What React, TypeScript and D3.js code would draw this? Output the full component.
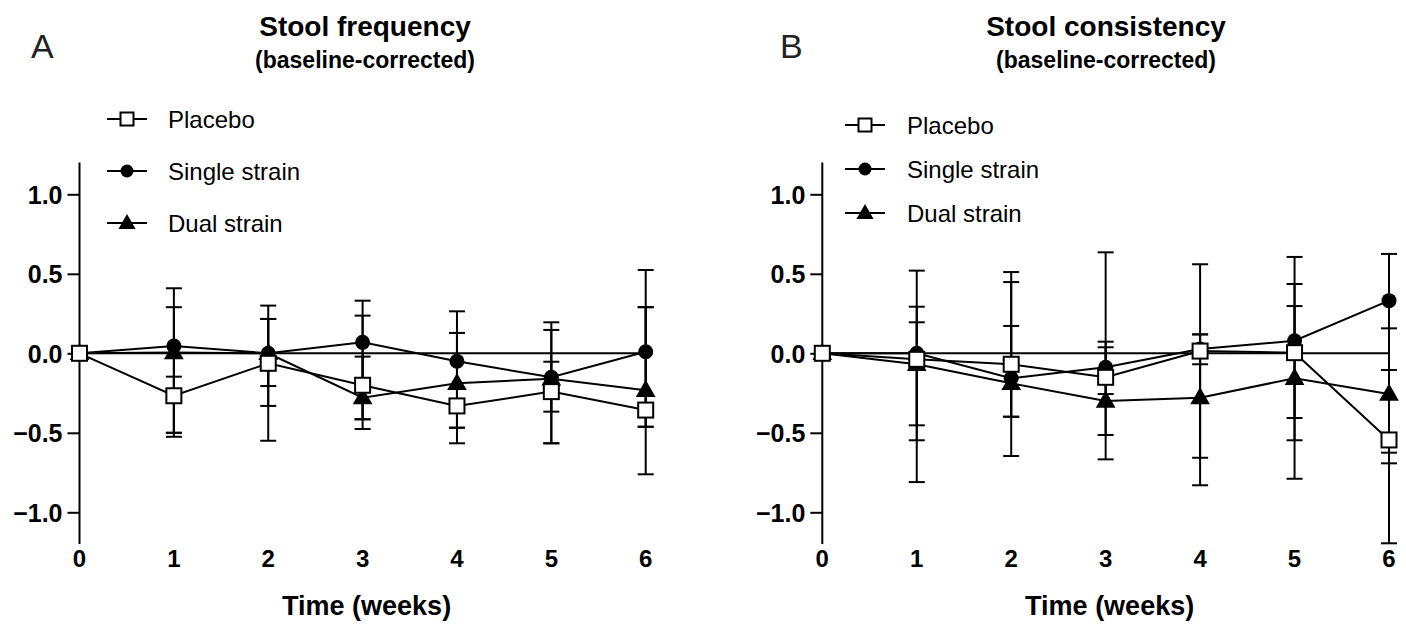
import { useEffect, useRef } from 'react';
import * as d3 from 'd3';

// weeks on the x axis
const WEEKS = [0, 1, 2, 3, 4, 5, 6];
const Y_TICKS = [-1.0, -0.5, 0.0, 0.5, 1.0];
const SERIES = ['Placebo', 'Single strain', 'Dual strain'];
const MARKERS = ['square', 'circle', 'triangle'];

// A: stool frequency (mean, lower, upper)
const freqPlacebo = [0, -0.267, -0.063, -0.201, -0.331, -0.241, -0.357];
const freqPlaceboLo = [0, -0.5, -0.206, -0.476, -0.566, -0.367, -0.761];
const freqPlaceboHi = [0, -0.147, 0.216, 0.237, 0.128, 0.147, 0.29];
const freqSingle = [0, 0.046, 0.0, 0.069, -0.05, -0.151, 0.01];
const freqSingleLo = [0, -0.525, -0.55, -0.415, -0.468, -0.566, -0.462];
const freqSingleHi = [0, 0.409, 0.3, 0.331, 0.264, 0.195, 0.524];
const freqDual = [0, 0.005, 0.0, -0.279, -0.189, -0.16, -0.232];
const freqDualLo = [0, -0.5, -0.331, -0.415, -0.468, -0.566, -0.462];
const freqDualHi = [0, 0.29, 0.216, -0.021, 0.128, -0.053, 0.29];

// B: stool consistency
const consPlacebo = [0, -0.038, -0.069, -0.151, 0.014, 0.004, -0.545];
const consPlaceboLo = [0, -0.547, -0.399, -0.667, -0.069, -0.547, -1.195];
const consPlaceboHi = [0, 0.293, 0.511, 0.635, 0.119, 0.436, 0.157];
const consSingle = [0, 0.0, -0.157, -0.088, 0.027, 0.079, 0.331];
const consSingleLo = [0, -0.81, -0.646, -0.256, -0.657, -0.407, -0.692];
const consSingleHi = [0, 0.52, 0.448, 0.073, 0.119, 0.606, 0.625];
const consDual = [0, -0.069, -0.189, -0.3, -0.279, -0.157, -0.256];
const consDualLo = [0, -0.453, -0.399, -0.514, -0.83, -0.789, -0.625];
const consDualHi = [0, 0.195, 0.172, 0.038, 0.56, 0.297, -0.105];

const FONT = '"Liberation Sans", Arial, Helvetica, sans-serif';

type Series = { mean: number[]; lo: number[]; hi: number[] };

function drawMarker(g: any, type: string, x: number, y: number, s: number) {
  if (type === 'square') {
    g.append('rect')
      .attr('x', x - s / 2).attr('y', y - s / 2)
      .attr('width', s).attr('height', s)
      .attr('fill', '#fff').attr('stroke', '#000').attr('stroke-width', 2);
  } else if (type === 'circle') {
    g.append('circle')
      .attr('cx', x).attr('cy', y).attr('r', s / 2)
      .attr('fill', '#000');
  } else {
    const sym = d3.symbol().type(d3.symbolTriangle).size(s * s * 0.75);
    g.append('path')
      .attr('transform', `translate(${x},${y + 1})`)
      .attr('d', sym())
      .attr('fill', '#000');
  }
}

function drawPanel(svg: any, opts: any) {
  const { x0, x1, letter, letterX, title, titleX, legendX, legendTextX, legendY, series } = opts;
  const x = d3.scaleLinear().domain([0, 6]).range([x0, x1]);
  const y = d3.scaleLinear().domain([-1.2, 1.2]).range([544.1, 162.5]);
  const g = svg.append('g');

  // panel letter + titles
  g.append('text').attr('x', letterX).attr('y', 58).text(letter)
    .style('font-family', FONT).style('font-size', '34px').style('fill', '#222');
  g.append('text').attr('x', titleX).attr('y', 36).attr('text-anchor', 'middle').text(title)
    .style('font-family', FONT).style('font-size', '28px').style('font-weight', 'bold');
  g.append('text').attr('x', titleX).attr('y', 68).attr('text-anchor', 'middle').text('(baseline-corrected)')
    .style('font-family', FONT).style('font-size', '23px').style('font-weight', 'bold');

  // y axis
  const yAxis = g.append('g')
    .attr('transform', `translate(${x0},0)`)
    .call(d3.axisLeft(y).tickValues(Y_TICKS).tickSize(12).tickPadding(5).tickFormat(d3.format('.1f')));
  yAxis.select('.domain').attr('stroke-width', 2).attr('d', `M0,${y(-1.2)}V${y(1.2)}`);
  yAxis.selectAll('.tick line').attr('stroke-width', 2);
  yAxis.selectAll('text')
    .style('font-family', FONT).style('font-size', '25px').style('font-weight', 'bold').attr('fill', '#000')
    .attr('dy', '0.36em');

  // x axis at y=0, no ticks
  g.append('line')
    .attr('x1', x(0)).attr('x2', x(6)).attr('y1', y(0)).attr('y2', y(0))
    .attr('stroke', '#000').attr('stroke-width', 2);

  // x tick labels
  g.selectAll('.xlab').data(WEEKS).enter().append('text')
    .attr('x', (d: number) => x(d)).attr('y', 567).attr('text-anchor', 'middle')
    .text((d: number) => d)
    .style('font-family', FONT).style('font-size', '24px').style('font-weight', 'bold');

  g.append('text').attr('x', (x0 + x1) / 2 + 4).attr('y', 615).attr('text-anchor', 'middle').text('Time (weeks)')
    .style('font-family', FONT).style('font-size', '27px').style('font-weight', 'bold');

  const line = d3.line<number>().x((_d, i) => x(WEEKS[i])).y((d) => y(d));

  // error bars
  series.forEach((s: Series) => {
    WEEKS.forEach((w, i) => {
      if (s.lo[i] === s.hi[i]) return;
      const cx = x(w);
      g.append('line').attr('x1', cx).attr('x2', cx).attr('y1', y(s.lo[i])).attr('y2', y(s.hi[i]))
        .attr('stroke', '#000').attr('stroke-width', 2);
      [s.lo[i], s.hi[i]].forEach((v) => {
        g.append('line').attr('x1', cx - 8).attr('x2', cx + 8).attr('y1', y(v)).attr('y2', y(v))
          .attr('stroke', '#000').attr('stroke-width', 2);
      });
    });
  });

  // lines
  series.forEach((s: Series) => {
    g.append('path').attr('d', line(s.mean)).attr('fill', 'none')
      .attr('stroke', '#000').attr('stroke-width', 2);
  });

  // markers (dual, single, placebo drawn on top)
  [2, 1, 0].forEach((k) => {
    series[k].mean.forEach((v: number, i: number) => {
      drawMarker(g, MARKERS[k], x(WEEKS[i]), y(v), 15);
    });
  });

  // legend
  SERIES.forEach((name, k) => {
    const ly = legendY[k];
    g.append('line').attr('x1', legendX).attr('x2', legendX + 40).attr('y1', ly).attr('y2', ly)
      .attr('stroke', '#000').attr('stroke-width', 2);
    drawMarker(g, MARKERS[k], legendX + 20, ly, 13);
    g.append('text').attr('x', legendTextX).attr('y', ly).attr('dy', '0.36em').text(name)
      .style('font-family', FONT).style('font-size', '24px');
  });
}

export default function App() {
  const svgRef = useRef<SVGSVGElement>(null);

  useEffect(() => {
    const svg = d3.select(svgRef.current);
    svg.selectAll('*').remove();

    drawPanel(svg, {
      x0: 79.5, x1: 645.7, letter: 'A', letterX: 31, title: 'Stool frequency', titleX: 365,
      legendX: 107, legendTextX: 168, legendY: [119, 171, 223],
      series: [
        { mean: freqPlacebo, lo: freqPlaceboLo, hi: freqPlaceboHi },
        { mean: freqSingle, lo: freqSingleLo, hi: freqSingleHi },
        { mean: freqDual, lo: freqDualLo, hi: freqDualHi },
      ],
    });
    drawPanel(svg, {
      x0: 822.3, x1: 1389, letter: 'B', letterX: 780, title: 'Stool consistency', titleX: 1106,
      legendX: 845, legendTextX: 907, legendY: [125, 169, 213],
      series: [
        { mean: consPlacebo, lo: consPlaceboLo, hi: consPlaceboHi },
        { mean: consSingle, lo: consSingleLo, hi: consSingleHi },
        { mean: consDual, lo: consDualLo, hi: consDualHi },
      ],
    });
  }, []);

  return (
    <svg ref={svgRef} width={1406} height={625}
      style={{ position: 'absolute', left: 0, top: 0, background: '#fff' }} />
  );
}
